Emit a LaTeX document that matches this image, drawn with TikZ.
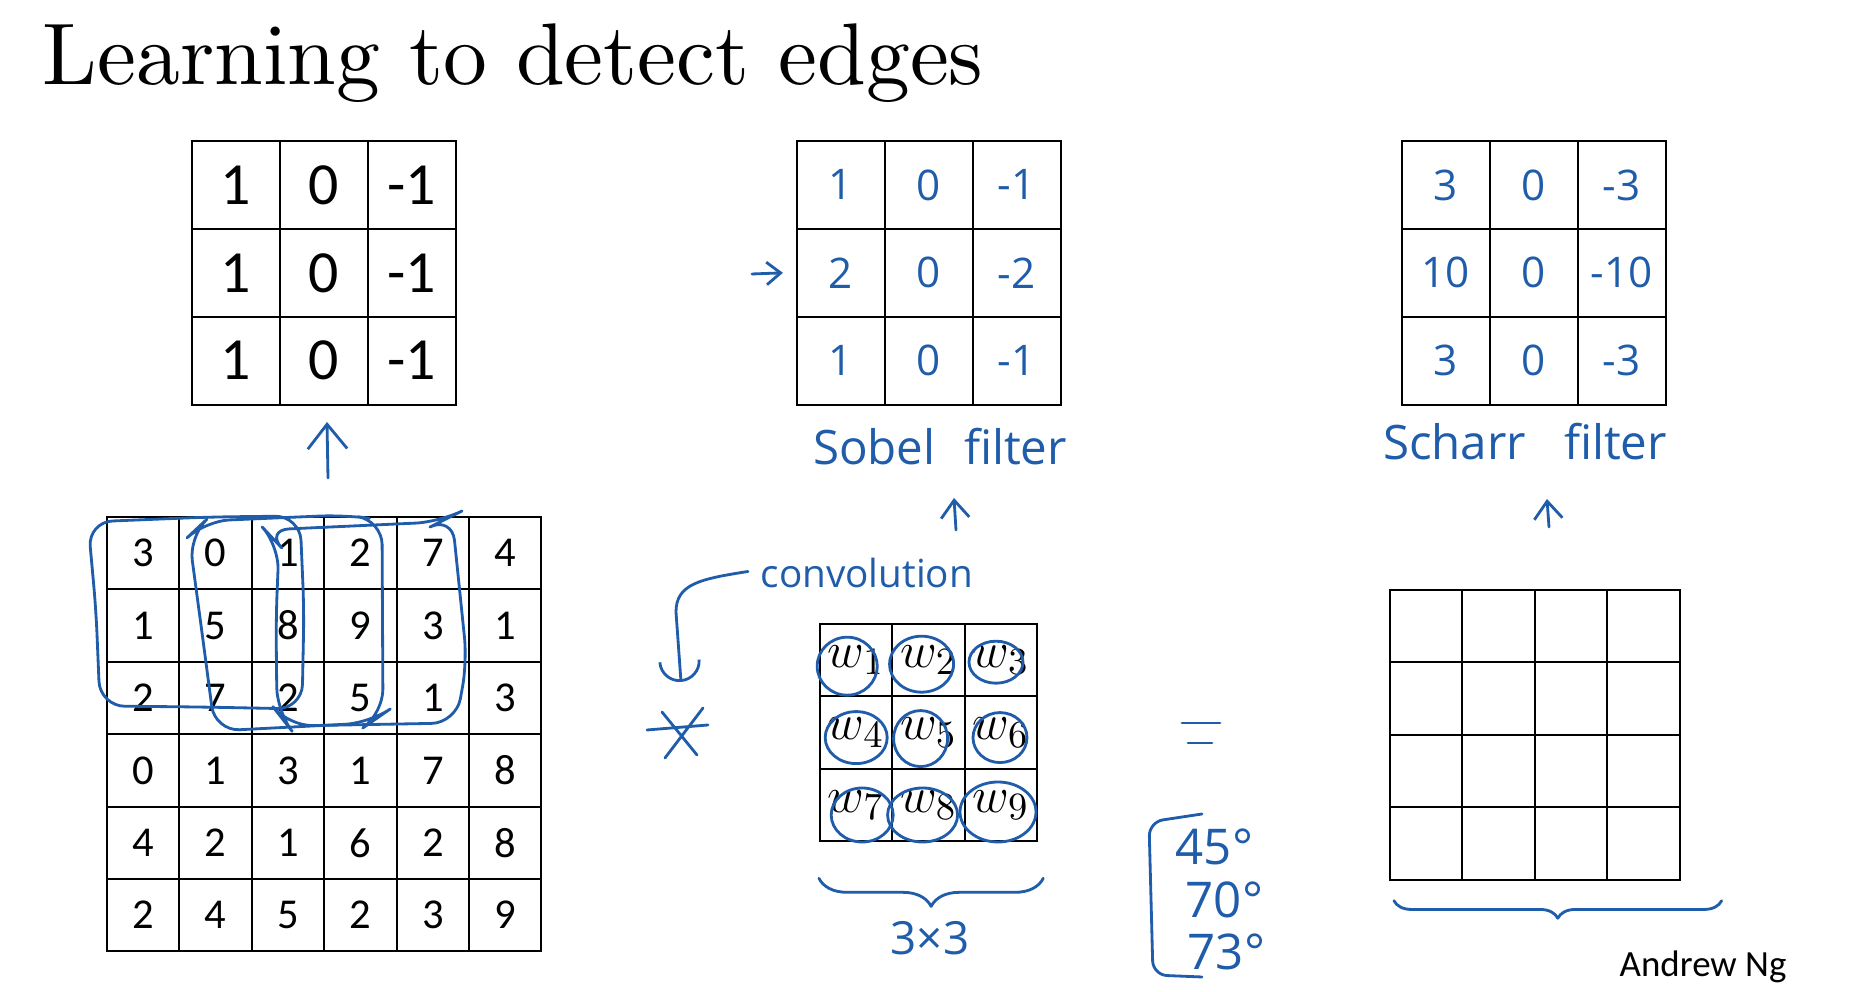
\documentclass[tikz,border=0pt]{standalone}
\usepackage{fontspec}
\usepackage{tikz}
\usetikzlibrary{calc,arrows.meta,decorations.pathreplacing}
\newfontfamily\calib{Carlito}
\newfontfamily\hand{Open Sans}
\newfontfamily\titlefont{lmroman10-regular.otf}
\definecolor{ink}{HTML}{1F5CAA}
\tikzset{
  title/.style={font=\titlefont\fontsize{24.9}{28}\selectfont, inner sep=0pt},
  cellbig/.style={draw=black, line width=0.6pt, minimum size=0.879cm, inner sep=0pt, font=\calib\fontsize{17}{17}\selectfont},
  cellsm/.style={draw=black, line width=0.6pt, minimum size=0.724cm, inner sep=0pt, font=\calib\fontsize{12.1}{12}\selectfont},
  cellw/.style={draw=black, line width=0.6pt, minimum size=0.724cm, inner sep=0pt, font=\fontsize{15}{15}\selectfont},
  inkdigit/.style={text=ink, font=\hand\fontsize{#1}{#1}\selectfont},
  pen/.style={draw=ink, line width=0.8pt, line cap=round, line join=round},
  hand/.style={text=ink, inner sep=0pt, font=\hand\fontsize{#1}{#1}\selectfont},
  up/.style={pen, -{Straight Barb[length=#1, width=1.6*#1]}},
  credit/.style={font=\calib\fontsize{10.5}{11}\selectfont, inner sep=0pt},
}

\begin{document}
\begin{tikzpicture}[x=0.01cm,y=-0.01cm]
  \fill[white] (0,0) rectangle (1862,992);
  \useasboundingbox (0,0) rectangle (1862,992);

  \node[title,anchor=base west] (title) at (42,85) {Learning to detect edges};

  % vertical edge filter
  \foreach \row [count=\r] in {{1,0,-1},{1,0,-1},{1,0,-1}}
    \foreach \v [count=\c] in \row
      \node[cellbig] (vk-\r-\c) at ({192+87.9*(\c-0.5)},{141+87.9*(\r-0.5)}) {\v};

  % Sobel
  \foreach \row [count=\r] in {{1,0,-1},{2,0,-2},{1,0,-1}}
    \foreach \v [count=\c] in \row
      \node[cellbig,inkdigit=12] (so-\r-\c) at ({797+87.9*(\c-0.5)},{141+87.9*(\r-0.5)}) {\v};

  % Scharr
  \foreach \row [count=\r] in {{3,0,-3},{10,0,-10},{3,0,-3}}
    \foreach \v [count=\c] in \row
      \node[cellbig,inkdigit=12] (sc-\r-\c) at ({1402+87.9*(\c-0.5)},{141+87.9*(\r-0.5)}) {\v};

  \node[hand=13.5,anchor=base] (sobel) at (940,465) {Sobel\hspace{0.6em}filter};
  \node[hand=13.5,anchor=base] (scharr) at (1525,460) {Scharr\hspace{0.8em}filter};

  % input image
  \foreach \row [count=\r] in {{3,0,1,2,7,4},{1,5,8,9,3,1},{2,7,2,5,1,3},{0,1,3,1,7,8},{4,2,1,6,2,8},{2,4,5,2,3,9}}
    \foreach \v [count=\c] in \row
      \node[cellsm] (in-\r-\c) at ({107+72.4*(\c-0.5)},{517+72.4*(\r-0.5)}) {\v};

  % sliding 3x3 windows
  \draw[pen,rounded corners=7] (88,522) -- (210,517) -- (300,516) -- (304,610) -- (302,709)
    -- (200,707) -- (100,706) -- (96,610) -- cycle;
  \draw[pen,rounded corners=7] (189,536) -- (205,521) -- (345,515) -- (382,520) -- (383,714)
    -- (370,723) -- (215,731) -- (203,640) -- cycle;
  \draw[pen,rounded corners=7] (265,530) -- (440,522) -- (452,516) -- (467,662) -- (456,723)
    -- (288,726) -- (277,712) -- (276,620) -- (279,545) -- cycle;

  % learned weights
  \foreach \k in {1,...,9}
    \node[cellw] (w-\k) at ({820+72.4*(mod(\k-1,3)+0.5)},{624+72.4*(int((\k-1)/3)+0.5)}) {$w_{\k}$};
  \foreach \k/\dx/\dy/\rx/\ry in {1/-9/6/30/29, 2/-7/4/32/28, 3/-5/2/27/21, 4/0/5/31/26,
      5/-8/6/27/28, 6/-1/5/27/25, 7/6/10/31/27, 8/-6/10/35/27, 9/-3/7/38/30}
    \draw[pen] ($(w-\k)+(\dx,\dy)$) ellipse [x radius=\rx, y radius=\ry];

  % output
  \foreach \r in {1,...,4}
    \foreach \c in {1,...,4}
      \node[cellsm] (out-\r-\c) at ({1390+72.4*(\c-0.5)},{590+72.4*(\r-0.5)}) {};

  % arrows
  \coordinate (a1) at (328,478);
  \coordinate (a1t) at (327,422);
  \draw[up=7pt] (a1) -- (a1t);
  \coordinate (a2) at (956,530);
  \coordinate (a2t) at (954,498);
  \draw[up=5pt] (a2) -- (a2t);
  \coordinate (a3) at (1549,527);
  \coordinate (a3t) at (1547,499);
  \draw[up=5pt] (a3) -- (a3t);
  \coordinate (a4) at (752,274);
  \draw[up=4pt] (a4) -- ($(so-2-1.west)+(-13,0)$);

  % convolution
  \node[hand=11,anchor=base west] (conv) at (760,588) {convolution};
  \coordinate (star) at (683,732);
  \draw[pen,-{Arc Barb[length=6pt,width=12pt]}] ($(conv.west)+(-12,-2)$)
    .. controls (700,579) and (676,584) .. (676,612) -- (681,682);
  \draw[pen] ($(star)+(-36,-2)$) -- ($(star)+(25,-7)$)
    ($(star)+(-21,-20)$) -- ($(star)+(14,23)$)
    ($(star)+(20,-24)$) -- ($(star)+(-18,26)$);

  % equals
  \coordinate (eq) at (1201,733);
  \draw[pen] ($(eq)+(-19,-10)$) -- ($(eq)+(19,-10)$)
    ($(eq)+(-13,10)$) -- ($(eq)+(11,10)$);

  % braces
  \draw[pen,decorate,decoration={brace,mirror,amplitude=8pt}]
    ($(w-7.south west)+(0,36)$) -- ($(w-9.south east)+(5,36)$);
  \node[hand=13,anchor=base] (dims) at (930,955) {3×3};
  \draw[pen,decorate,decoration={brace,mirror,amplitude=5pt}]
    ($(out-4-1.south west)+(5,20)$) -- ($(out-4-4.south east)+(41,20)$);

  % angles
  \draw[pen,rounded corners=4] (1202,814) -- (1149,822) -- (1153,975) -- (1202,977);
  \node[hand=14,anchor=base west] (ang1) at (1175,865) {45°};
  \node[hand=14,anchor=base west] (ang2) at (1185,918) {70°};
  \node[hand=14,anchor=base west] (ang3) at (1187,970) {73°};

  \node[credit,anchor=base west] (ng) at (1619,977) {Andrew Ng};
\end{tikzpicture}
\end{document}
